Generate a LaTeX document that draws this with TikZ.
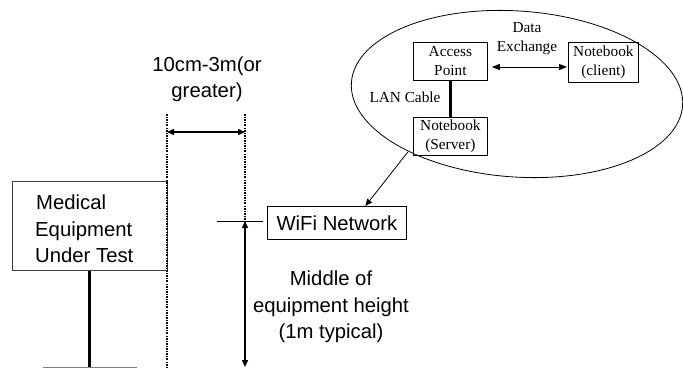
\documentclass[tikz,border=0pt]{standalone}
\usepackage{fontspec}
\setmainfont{Liberation Sans}
\newfontfamily\serifm{Liberation Serif}
\usetikzlibrary{arrows.meta,shapes.geometric}
\begin{document}
\begin{tikzpicture}[x=1pt,y=-1pt,
  sanstext/.style={font=\fontsize{20.3}{26.5}\selectfont, align=center, inner sep=0pt},
  seriftext/.style={font=\serifm\fontsize{15.3}{19}\selectfont, align=center, inner sep=0pt},
  boxthin/.style={draw, line width=0.8pt},
  dimline/.style={line width=1.1pt, dash pattern=on 2pt off 1.2pt on 0.8pt off 1.2pt},
  thickline/.style={line width=3pt},
  dblarrow/.style={line width=1.4pt, {Triangle[length=7pt,width=6pt]}-{Triangle[length=7pt,width=6pt]}},
  thinarrow/.style={line width=0.8pt, -{Triangle[length=7pt,width=6pt]}}]
\useasboundingbox (0,0) rectangle (683,368);

% Medical equipment
\node[boxthin, draw=black!75, minimum width=155pt, minimum height=89pt, anchor=north west] (med) at (12,181) {};
\node[sanstext, align=left, anchor=west] (medtext) at (35,229) {\hspace*{1pt}Medical\\Equipment\\Under Test};
\coordinate (stemb) at (89,368);
\draw[thickline] (med.south -| stemb) -- (stemb);
\coordinate (basel) at (43,367);
\coordinate (baser) at (137,367);
\draw[gray, line width=0.8pt] (basel) -- (baser);

% dotted reference lines
\coordinate (d1t) at (167,114);
\coordinate (d1b) at (167,368);
\coordinate (d2t) at (245,114);
\coordinate (d2b) at (245,221);
\draw[dimline] (d1t) -- (d1b);
\draw[dimline] (d2t) -- (d2b);
\coordinate (ha) at (167,132);
\coordinate (hb) at (245,132);
\draw[dblarrow] (ha) -- (hb);
\node[sanstext] (dist) at (207,79) {10cm-3m(or\\greater)};

% height marker
\coordinate (hl) at (217,221);
\coordinate (hr) at (263,221);
\draw[line width=0.7pt] (hl) -- (hr);
\coordinate (va) at (245,221);
\coordinate (vb) at (245,367);
\draw[dblarrow] (va) -- (vb);
\node[sanstext] (mid) at (331,307) {Middle of\\equipment height\\(1m typical)};

% WiFi
\node[boxthin, sanstext, draw, minimum width=139pt, minimum height=33pt, anchor=north west] (wifi) at (267,206) {WiFi Network};

% Ellipse
\node[draw, ellipse, rotate=-4, line width=0.8pt, minimum width=332pt, minimum height=166pt, inner sep=0pt] (cloud) at (517,94) {};
\node[boxthin, seriftext, minimum width=74pt, minimum height=38pt, anchor=north west] (ap) at (413,42) {Access\\Point};
\node[boxthin, seriftext, minimum width=70pt, minimum height=40pt, anchor=north west] (nbc) at (568,42) {Notebook\\(client)};
\node[boxthin, seriftext, minimum width=74pt, minimum height=38pt, anchor=north west] (nbs) at (413,117) {Notebook\\(Server)};
\draw[thickline] (ap.south) -- (nbs.north);
\node[seriftext] (lan) at (405,97) {LAN Cable};
\node[seriftext] (dex) at (527,39) {Data\\Exchange};
\coordinate (dexy) at (0,67);
\draw[line width=1pt, {Triangle[length=8pt,width=6pt]}-{Triangle[length=8pt,width=6pt]}] ([xshift=4pt]ap.east |- dexy) -- ([xshift=-1pt]nbc.west |- dexy);
\draw[thinarrow] ([xshift=-5pt,yshift=4pt]nbs.south west) -- ([xshift=28.5pt]wifi.north);
\end{tikzpicture}
\end{document}
